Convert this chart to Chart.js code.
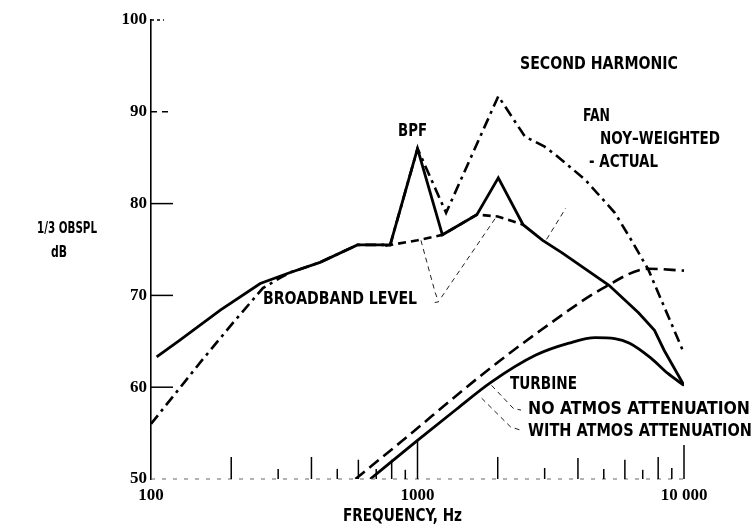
<!DOCTYPE html>
<html>
<head>
<meta charset="utf-8">
<script src="https://cdn.jsdelivr.net/npm/chart.js@4.4.1/dist/chart.umd.min.js"></script>
<style>
  html, body { margin: 0; padding: 0; background: #fff; }
  #wrap { width: 753px; height: 532px; position: relative; }
</style>
</head>
<body>
<div id="wrap"><canvas id="spl"></canvas></div>
<script>
// values (frequency in Hz, level in dB)
const actualFreq = [105, 128, 182, 257, 333, 431, 595, 790, 1000, 1240, 1670, 2010, 2490, 2950, 3500, 5230, 6750, 7750, 8430, 10000]
const actualDb = [63.3, 65.1, 68.4, 71.3, 72.5, 73.6, 75.5, 75.5, 86, 76.6, 78.8, 82.8, 77.7, 76, 74.6, 71.1, 68.1, 66.2, 64, 60.2]

const noyFreq = [100, 156, 203, 263, 305, 333, 431, 595, 790, 1000, 1280, 2010, 2530, 3000, 3300, 4260, 5500, 6350, 7350, 10000]
const noyDb = [56, 63, 67, 70.8, 71.9, 72.5, 73.6, 75.5, 75.5, 86, 79, 91.7, 87.3, 86.2, 85.3, 82.6, 79, 76, 72.8, 63.7]

const broadFreq = [757, 1000, 1240, 1670, 2000, 2490]
const broadDb = [75.4, 76, 76.6, 78.8, 78.6, 77.7]

const turbNoFreq = [585, 863, 1770, 2900, 5050, 7350, 10000]
const turbNoDb = [50, 54, 61.5, 66.2, 70.9, 72.9, 72.7]

const turbAtmFreq = [665, 1000, 1400, 1880, 2780, 3700, 4650, 5500, 6250, 7500, 8700, 10000]
const turbAtmDb = [50, 54.2, 57.6, 60.5, 63.5, 64.8, 65.4, 65.3, 64.8, 63.2, 61.5, 60.2]

// leader lines from the labels to the curves
const leaderBroadA = [[1030, 76], [1165, 70.3], [1200, 69.3], [1150, 69.2]]
const leaderBroadB = [[1230, 69.8], [1980, 78.6]]
const leaderActual = [[3050, 76.1], [3600, 79.5]]
const leaderNoAtm = [[1896, 60.2], [2287, 57.7], [2447, 57.5]]
const leaderWithAtm = [[1741, 58.8], [2230, 55.7], [2447, 55.3]]

// tick marks standing on the frequency axis
const axisTickFreqs = [200, 300, 400, 500, 600, 700, 800, 900, 1000, 2000, 3000, 4000, 5000, 6000, 7000, 8000, 9000, 10000]
const axisTickHeights = [2.4, 1.1, 2.4, 1.1, 2.1, 1.1, 2.1, 1.0, 4.2, 2.4, 1.2, 2.3, 1.1, 2.1, 1.0, 2.4, 1.2, 3.7]

const yTickValues = [60, 70, 80, 90, 100]
const xLabelValues = [100, 1000, 10000]

const pts = (fs, vs) => fs.map((f, i) => ({ x: f, y: vs[i] }))
const pairs = (arr) => arr.map((p) => ({ x: p[0], y: p[1] }))

const textFont = "'DejaVu Sans Condensed', 'Liberation Sans Narrow', 'DejaVu Sans', sans-serif"

function fitText(ctx, txt, x, y, w, size) {
  ctx.save()
  ctx.font = "bold " + size + "px " + textFont
  ctx.textBaseline = "middle"
  ctx.textAlign = "left"
  const m = ctx.measureText(txt).width
  ctx.translate(x, y)
  ctx.scale(w / m, 1)
  ctx.fillText(txt, 0, 0)
  ctx.restore()
}

const decor = {
  id: "decor",
  afterDatasetsDraw(chart) {
    const { ctx, scales: { x, y } } = chart
    const x0 = x.getPixelForValue(100)
    const yb = y.getPixelForValue(50)
    ctx.save()
    ctx.fillStyle = "#000"

    // dotted baseline
    ctx.lineWidth = 1
    ctx.strokeStyle = "#666"
    ctx.setLineDash([4, 7])
    ctx.beginPath()
    ctx.moveTo(x0, yb)
    ctx.lineTo(x.getPixelForValue(10000), yb)
    ctx.stroke()

    // short level marks inside the axis
    ctx.strokeStyle = "#000"
    ctx.lineWidth = 1.5
    yTickValues.forEach((v) => {
      const py = y.getPixelForValue(v)
      ctx.setLineDash(v === 100 ? [3, 3] : v === 90 ? [6, 5] : [])
      ctx.beginPath()
      ctx.moveTo(x0, py)
      ctx.lineTo(x0 + (v === 100 ? 13 : 22), py)
      ctx.stroke()
    })

    // frequency tick marks
    ctx.setLineDash([])
    axisTickFreqs.forEach((f, i) => {
      const px = x.getPixelForValue(f)
      ctx.beginPath()
      ctx.moveTo(px, yb)
      ctx.lineTo(px, y.getPixelForValue(50 + axisTickHeights[i]))
      ctx.stroke()
    })

    // labels
    fitText(ctx, "SECOND HARMONIC", 520, 65, 158, 17)
    fitText(ctx, "BPF", 398, 132, 29, 17)
    fitText(ctx, "FAN", 583, 117, 27, 17)
    fitText(ctx, "NOY\u2013WEIGHTED", 600, 140, 120, 17)
    fitText(ctx, "- ACTUAL", 589, 163, 69, 17)
    fitText(ctx, "BROADBAND LEVEL", 263, 300, 154, 17)
    fitText(ctx, "TURBINE", 510, 385, 67, 17)
    fitText(ctx, "NO ATMOS ATTENUATION", 528, 410, 222, 17)
    fitText(ctx, "WITH ATMOS ATTENUATION", 528, 432, 224, 17)
    fitText(ctx, "1/3 OBSPL", 37, 229, 60, 16)
    fitText(ctx, "dB", 51, 253, 16, 16)
    fitText(ctx, "FREQUENCY, Hz", 343, 517, 119, 17)
    ctx.restore()
  }
}

const solid = { borderColor: "#000", borderWidth: 2.8, pointRadius: 0, fill: false }
const leader = { borderColor: "#222", borderWidth: 1, borderDash: [5, 4], pointRadius: 0, fill: false, tension: 0 }

new Chart(document.getElementById("spl"), {
  type: "line",
  data: {
    datasets: [
      { ...solid, label: "Actual", data: pts(actualFreq, actualDb), tension: 0 },
      { ...solid, label: "Noy-weighted", data: pts(noyFreq, noyDb), borderDash: [11, 5, 3, 5], borderWidth: 2.6, tension: 0 },
      { ...solid, label: "Broadband level", data: pts(broadFreq, broadDb), borderDash: [8, 5], borderWidth: 2.6, tension: 0 },
      { ...solid, label: "Turbine, no atmos attenuation", data: pts(turbNoFreq, turbNoDb), borderDash: [12, 6], borderWidth: 2.6, cubicInterpolationMode: "monotone" },
      { ...solid, label: "Turbine, with atmos attenuation", data: pts(turbAtmFreq, turbAtmDb), cubicInterpolationMode: "monotone" },
      { ...leader, data: pairs(leaderBroadA) },
      { ...leader, data: pairs(leaderBroadB) },
      { ...leader, data: pairs(leaderActual) },
      { ...leader, data: pairs(leaderNoAtm) },
      { ...leader, data: pairs(leaderWithAtm) },
    ],
  },
  options: {
    responsive: true,
    maintainAspectRatio: false,
    animation: false,
    layout: { padding: { top: 20, right: 69, left: 0, bottom: 0 } },
    plugins: { legend: { display: false }, tooltip: { enabled: false } },
    scales: {
      x: {
        type: "logarithmic",
        min: 100,
        max: 10000,
        afterFit: (s) => { s.height = 53 },
        afterBuildTicks: (s) => { s.ticks = xLabelValues.map((v) => ({ value: v })) },
        grid: { display: false, drawTicks: false },
        border: { display: false },
        ticks: {
          autoSkip: false,
          maxRotation: 0,
          padding: 6,
          color: "#000",
          font: { family: "'Liberation Serif', serif", size: 17, weight: "bold" },
          callback: (v) => (v === 10000 ? "10 000" : String(v)),
        },
      },
      y: {
        min: 50,
        max: 100,
        afterFit: (s) => { s.width = 151 },
        grid: { display: false, drawTicks: false },
        border: { display: true, color: "#000", width: 1.6 },
        ticks: {
          stepSize: 10,
          padding: 4,
          color: "#000",
          font: { family: "'Liberation Serif', serif", size: 17, weight: "bold" },
        },
      },
    },
  },
  plugins: [decor],
})
</script>
</body>
</html>
